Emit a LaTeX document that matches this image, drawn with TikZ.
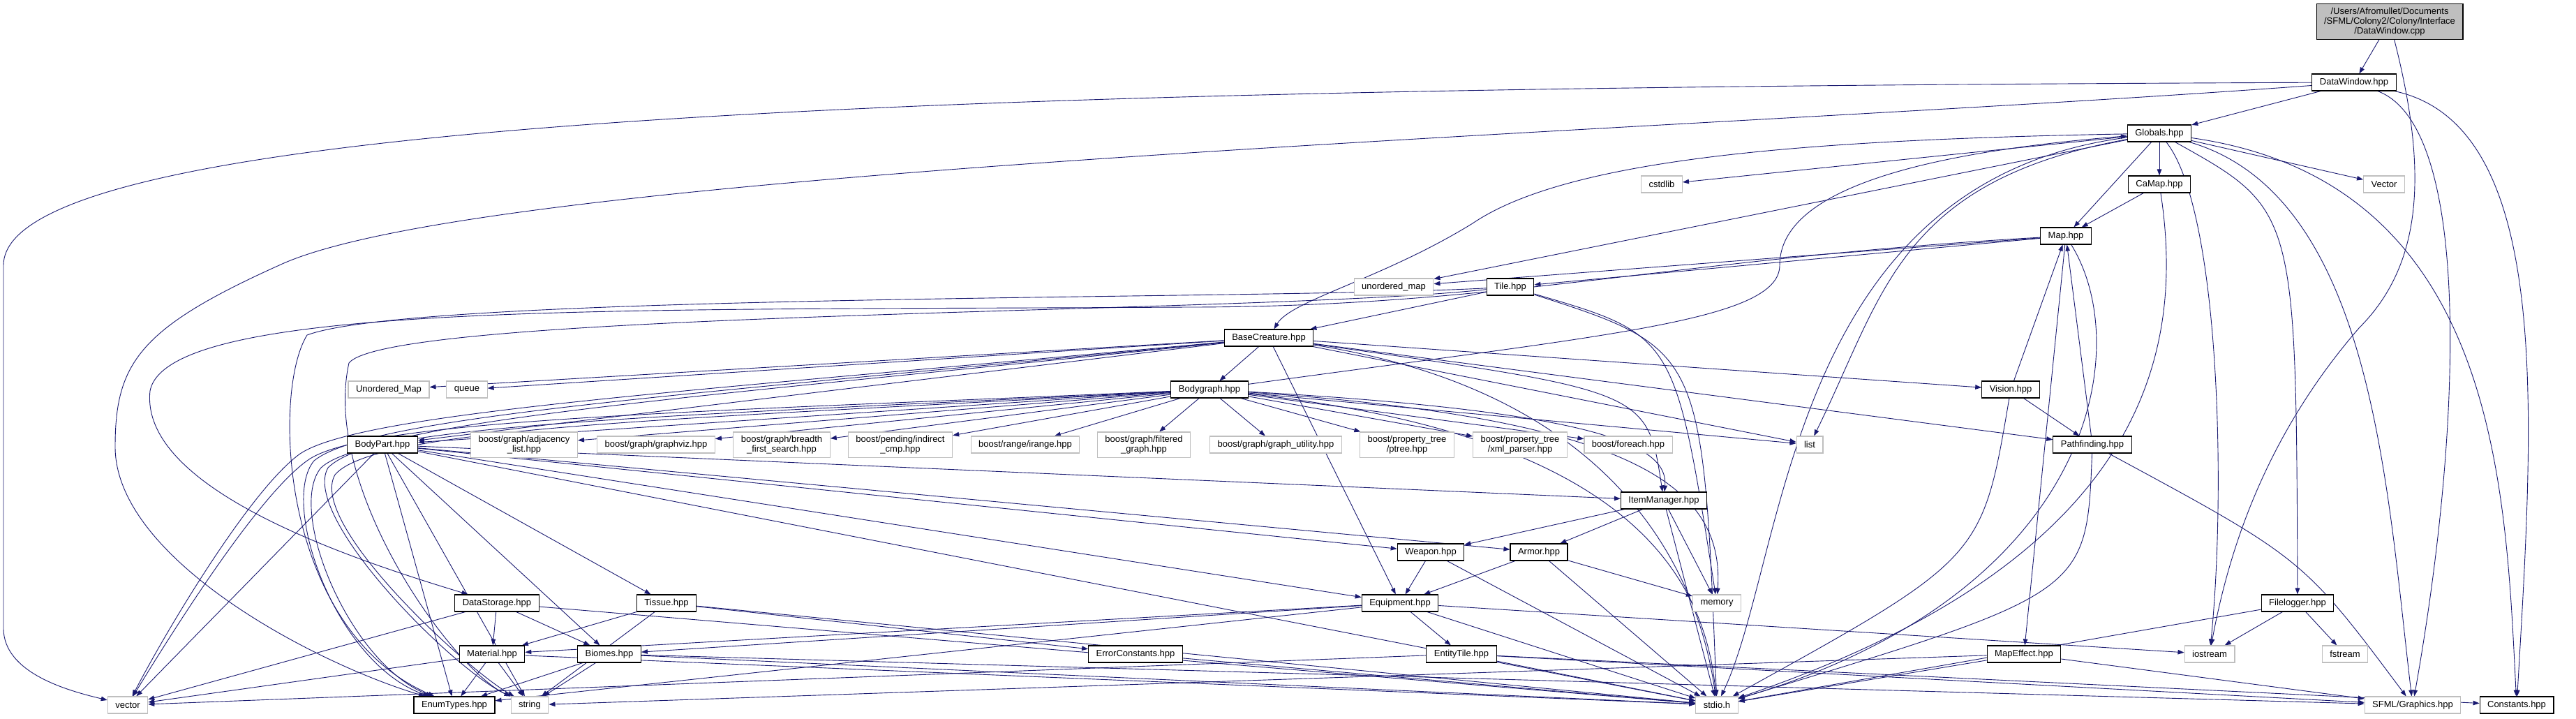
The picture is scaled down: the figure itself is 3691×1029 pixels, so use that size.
\documentclass[tikz,border=0pt]{standalone}
\usepackage{fontspec}
\setmainfont{Liberation Sans}
\usetikzlibrary{arrows.meta,backgrounds}
\definecolor{edgeblue}{HTML}{191970}
\definecolor{extgray}{HTML}{BFBFBF}

\begin{document}
\begin{tikzpicture}[x=1pt, y=-1pt, >={Triangle[length=9pt,width=6.5pt]},
    font=\fontsize{13}{14}\selectfont,
    file/.style={draw=black, line width=1.1pt, fill=white, inner xsep=11pt, inner ysep=5pt, minimum height=24pt, align=center},
    extfile/.style={file, draw=extgray},
    rootfile/.style={file, fill=extgray},
    dep/.style={->, draw=edgeblue, line width=0.9pt}]

    \useasboundingbox (0,0) rectangle (3691,1029);

    % Files, one row per rank
    \node[rootfile] (root) at (3424,31) {/Users/Afromullet/Documents\\/SFML/Colony2/Colony/Interface\\/DataWindow.cpp};
    \node[file] (dwh) at (3373,118) {DataWindow.hpp};
    \node[file] (glob) at (3094,191) {Globals.hpp};
    \node[file] (camap) at (3094,264) {CaMap.hpp};
    \node[extfile] (cstdlib) at (2381,264) {cstdlib};
    \node[extfile] (vecbig) at (3416,264) {Vector};
    \node[file] (map) at (2960,338) {Map.hpp};
    \node[extfile] (umap) at (1997,411) {unordered\_map};
    \node[file] (tile) at (2164,411) {Tile.hpp};
    \node[file] (base) at (1818,484) {BaseCreature.hpp};
    \node[file] (bgraph) at (1733,558) {Bodygraph.hpp};
    \node[extfile] (umapbig) at (557,558) {Unordered\_Map};
    \node[extfile] (queue) at (669,558) {queue};
    \node[file] (vision) at (2881,558) {Vision.hpp};
    \node[file] (bpart) at (548,637) {BodyPart.hpp};
    \node[extfile] (adj) at (751,637) {boost/graph/adjacency\\\_list.hpp};
    \node[extfile] (gviz) at (940,637) {boost/graph/graphviz.hpp};
    \node[extfile] (bfs) at (1120,637) {boost/graph/breadth\\\_first\_search.hpp};
    \node[extfile] (icmp) at (1290,637) {boost/pending/indirect\\\_cmp.hpp};
    \node[extfile] (irange) at (1469,637) {boost/range/irange.hpp};
    \node[extfile] (fgraph) at (1639,637) {boost/graph/filtered\\\_graph.hpp};
    \node[extfile] (gutil) at (1828,637) {boost/graph/graph\_utility.hpp};
    \node[extfile] (ptree) at (2016,637) {boost/property\_tree\\/ptree.hpp};
    \node[extfile] (xml) at (2178,637) {boost/property\_tree\\/xml\_parser.hpp};
    \node[extfile] (fe) at (2333,637) {boost/foreach.hpp};
    \node[extfile] (list) at (2593,637) {list};
    \node[file] (path) at (2998,637) {Pathfinding.hpp};
    \node[file] (itemm) at (2384,717) {ItemManager.hpp};
    \node[file] (weapon) at (2050,791) {Weapon.hpp};
    \node[file] (armor) at (2205,791) {Armor.hpp};
    \node[file] (dstore) at (712,864) {DataStorage.hpp};
    \node[file] (tissue) at (955,864) {Tissue.hpp};
    \node[file] (equip) at (2006,864) {Equipment.hpp};
    \node[extfile] (memory) at (2460,864) {memory};
    \node[file] (flog) at (3292,864) {Filelogger.hpp};
    \node[file] (material) at (705,937) {Material.hpp};
    \node[file] (biomes) at (873,937) {Biomes.hpp};
    \node[file] (errc) at (1627,937) {ErrorConstants.hpp};
    \node[file] (etile) at (2094,937) {EntityTile.hpp};
    \node[file] (meffect) at (2900,937) {MapEffect.hpp};
    \node[extfile] (iostream) at (3166,937) {iostream};
    \node[extfile] (fstream) at (3360,937) {fstream};
    \node[extfile] (vector) at (183,1010) {vector};
    \node[file] (enumt) at (651,1010) {EnumTypes.hpp};
    \node[extfile] (string) at (759,1010) {string};
    \node[extfile] (stdio) at (2460,1010) {stdio.h};
    \node[extfile] (sfml) at (3457,1010) {SFML/Graphics.hpp};
    \node[file] (consts) at (3606,1010) {Constants.hpp};

    \begin{scope}[on background layer]
    % DataWindow.cpp and DataWindow.hpp
    \draw[dep] (root) -- (dwh);
    \draw[dep] (root) .. controls (3480,250) and (3470,380) .. (3380,470) .. controls (3250,620) and (3195,780) .. (iostream);
    \draw[dep] (dwh) -- (glob);
    \draw[dep] (dwh) .. controls (1500,125) and (5,160) .. (5,380) -- (5,900) .. controls (5,965) and (100,990) .. (vector);
    \draw[dep] (dwh) .. controls (2400,190) and (700,240) .. (400,380) .. controls (200,470) and (165,520) .. (165,640) .. controls (165,800) and (450,950) .. (enumt);
    \draw[dep] (dwh) .. controls (3540,180) and (3530,600) .. (sfml);
    \draw[dep] (dwh) .. controls (3660,180) and (3630,600) .. (consts);

    % Globals.hpp
    \draw[dep] (glob) -- (camap);
    \draw[dep] (glob) -- (map);
    \draw[dep] (glob) -- (cstdlib);
    \draw[dep] (glob) -- (vecbig);
    \draw[dep] (glob) -- (umap);
    \draw[dep] (glob) .. controls (2720,260) and (2700,420) .. (list);
    \draw[dep] (glob) .. controls (3180,300) and (3190,700) .. (iostream);
    \draw[dep] (glob) .. controls (2560,260) and (2560,800) .. (stdio);
    \draw[dep] (glob) .. controls (3400,280) and (3420,700) .. (sfml);
    \draw[dep] (glob) .. controls (3580,260) and (3590,700) .. (consts);
    \draw[dep] (glob) .. controls (3290,300) .. (flog);
    \draw[dep] (glob) .. controls (2600,200) and (2250,225) .. (2110,320) .. controls (1980,400) and (1850,430) .. (base);

    % CaMap.hpp, Map.hpp, Vision.hpp, Pathfinding.hpp
    \draw[dep] (camap) -- (map);
    \draw[dep] (camap) .. controls (3130,500) and (3080,800) .. (stdio);
    \draw[dep] (map) -- (tile);
    \draw[dep] (map) -- (umap);
    \draw[dep] (map) -- (meffect);
    \draw[dep] (map) .. controls (3060,500) and (3000,850) .. (stdio);
    \draw[dep] (map) .. controls (2400,370) and (2150,440) .. (1700,440) .. controls (900,445) and (240,430) .. (215,560) .. controls (200,700) and (500,800) .. (dstore);
    \draw[dep] (vision) -- (path);
    \draw[dep] (vision) -- (map);
    \draw[dep] (vision) .. controls (2840,800) .. (stdio);
    \draw[dep] (path) -- (map);
    \draw[dep] (path) .. controls (3300,800) .. (sfml);
    \draw[dep] (path) .. controls (2990,850) .. (stdio);

    % Tile.hpp
    \draw[dep] (tile) -- (base);
    \draw[dep] (tile) .. controls (1800,430) and (600,420) .. (440,480) .. controls (390,560) and (400,900) .. (enumt);
    \draw[dep] (tile) .. controls (1800,450) and (560,445) .. (500,520) .. controls (460,700) and (650,960) .. (string);
    \draw[dep] (tile) .. controls (2400,480) .. (memory);
    \draw[dep] (tile) .. controls (2440,500) .. (stdio);

    % BaseCreature.hpp
    \draw[dep] (base) -- (bgraph);
    \draw[dep] (base) -- (umapbig);
    \draw[dep] (base) -- (queue);
    \draw[dep] (base) -- (bpart);
    \draw[dep] (base) -- (list);
    \draw[dep] (base) -- (vision);
    \draw[dep] (base) -- (path);
    \draw[dep] (base) .. controls (2300,560) and (2430,800) .. (stdio);
    \draw[dep] (base) .. controls (1000,560) and (520,590) .. (430,650) .. controls (360,700) and (240,900) .. (vector);
    \draw[dep] (base) .. controls (1000,570) and (540,600) .. (470,670) .. controls (430,740) and (650,960) .. (string);
    \draw[dep] (base) .. controls (1000,565) and (530,595) .. (450,660) .. controls (400,720) and (480,950) .. (enumt);
    \draw[dep] (base) .. controls (2360,560) .. (itemm);
    \draw[dep] (base) -- (equip);

    % Bodygraph.hpp
    \draw[dep] (bgraph) -- (adj);
    \draw[dep] (bgraph) -- (gviz);
    \draw[dep] (bgraph) -- (bfs);
    \draw[dep] (bgraph) -- (icmp);
    \draw[dep] (bgraph) -- (irange);
    \draw[dep] (bgraph) -- (fgraph);
    \draw[dep] (bgraph) -- (gutil);
    \draw[dep] (bgraph) -- (ptree);
    \draw[dep] (bgraph) -- (xml);
    \draw[dep] (bgraph) -- (fe);
    \draw[dep] (bgraph) -- (bpart);
    \draw[dep] (bgraph) -- (list);
    \draw[dep] (bgraph) .. controls (2350,600) and (2470,700) .. (memory);
    \draw[dep] (bgraph) .. controls (2300,620) and (2440,800) .. (stdio);
    \draw[dep] (bgraph) .. controls (2300,590) and (2390,640) .. (itemm);
    \draw[dep] (bgraph) .. controls (1000,590) and (520,600) .. (440,660) .. controls (370,710) and (250,900) .. (vector);
    \draw[dep] (bgraph) .. controls (1000,600) and (540,610) .. (480,680) .. controls (440,750) and (670,960) .. (string);
    \draw[dep] (bgraph) .. controls (1000,595) and (530,605) .. (460,670) .. controls (410,730) and (500,950) .. (enumt);
    \draw[dep] (bgraph) .. controls (2300,480) and (2550,460) .. (2550,380) .. controls (2550,260) and (2800,215) .. (glob);

    % BodyPart.hpp
    \draw[dep] (bpart) -- (tissue);
    \draw[dep] (bpart) -- (biomes);
    \draw[dep] (bpart) -- (enumt);
    \draw[dep] (bpart) -- (string);
    \draw[dep] (bpart) -- (vector);
    \draw[dep] (bpart) -- (itemm);
    \draw[dep] (bpart) -- (weapon);
    \draw[dep] (bpart) -- (armor);
    \draw[dep] (bpart) -- (equip);
    \draw[dep] (bpart) -- (stdio);

    % items
    \draw[dep] (itemm) -- (weapon);
    \draw[dep] (itemm) -- (armor);
    \draw[dep] (itemm) -- (memory);
    \draw[dep] (itemm) -- (stdio);
    \draw[dep] (weapon) -- (equip);
    \draw[dep] (weapon) -- (stdio);
    \draw[dep] (armor) -- (equip);
    \draw[dep] (armor) -- (memory);
    \draw[dep] (armor) -- (stdio);
    \draw[dep] (equip) -- (material);
    \draw[dep] (equip) -- (biomes);
    \draw[dep] (equip) -- (etile);
    \draw[dep] (equip) -- (stdio);
    \draw[dep] (equip) -- (iostream);
    \draw[dep] (equip) -- (enumt);

    % lower files
    \draw[dep] (dstore) -- (material);
    \draw[dep] (dstore) -- (biomes);
    \draw[dep] (dstore) -- (vector);
    \draw[dep] (dstore) -- (stdio);
    \draw[dep] (tissue) -- (material);
    \draw[dep] (tissue) -- (string);
    \draw[dep] (tissue) -- (errc);
    \draw[dep] (tissue) -- (stdio);
    \draw[dep] (material) -- (enumt);
    \draw[dep] (material) -- (string);
    \draw[dep] (material) -- (vector);
    \draw[dep] (material) -- (stdio);
    \draw[dep] (biomes) -- (enumt);
    \draw[dep] (biomes) -- (string);
    \draw[dep] (biomes) -- (stdio);
    \draw[dep] (biomes) -- (sfml);
    \draw[dep] (errc) -- (stdio);
    \draw[dep] (etile) -- (vector);
    \draw[dep] (etile) -- (sfml);
    \draw[dep] (etile) -- (consts);
    \draw[dep] (etile) -- (stdio);
    \draw[dep] (meffect) -- (stdio);
    \draw[dep] (meffect) -- (sfml);
    \draw[dep] (meffect) -- (string);
    \draw[dep] (flog) -- (iostream);
    \draw[dep] (flog) -- (fstream);
    \draw[dep] (flog) -- (stdio);
    \end{scope}

\end{tikzpicture}
\end{document}
